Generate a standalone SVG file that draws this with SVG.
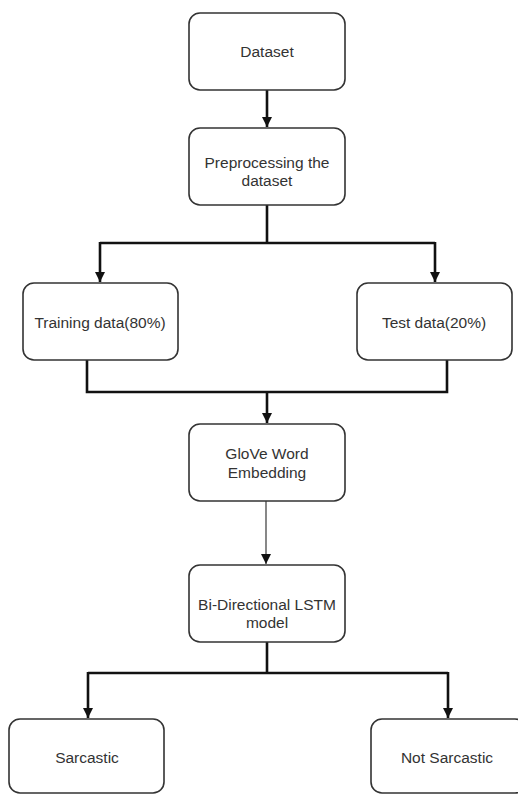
<svg xmlns="http://www.w3.org/2000/svg" width="518" height="795" viewBox="0 0 518 795">
<style>
.box{fill:#fff;stroke:#333;stroke-width:1.6}
.t{font-family:"Liberation Sans",Arial,sans-serif;font-size:15.5px;fill:#333;text-anchor:middle}
.c{fill:none;stroke:#111;stroke-width:2.6}
.thin{fill:none;stroke:#555;stroke-width:1.4}
</style>
<defs>
<marker id="ah" viewBox="0 0 10 10" refX="10" refY="5" markerWidth="4" markerHeight="4" markerUnits="strokeWidth" orient="auto">
<path d="M0,0 L10,5 L0,10 Z" fill="#111"/>
</marker>
<marker id="ah2" viewBox="0 0 10 10" refX="10" refY="5" markerWidth="7.5" markerHeight="7.5" markerUnits="strokeWidth" orient="auto">
<path d="M0,0 L10,5 L0,10 Z" fill="#111"/>
</marker>
</defs>
<rect width="518" height="795" fill="#fff"/>
<g id="connectors">
<path class="c" d="M267,90 V127" marker-end="url(#ah)"/>
<path class="c" d="M267,205 V243 M100,243 H435"/>
<path class="c" d="M100,242 V282" marker-end="url(#ah)"/>
<path class="c" d="M435,242 V282" marker-end="url(#ah)"/>
<path class="c" d="M87,360 V392 H447 V360"/>
<path class="c" d="M267,392 V423" marker-end="url(#ah)"/>
<path class="thin" d="M266,501 V564" marker-end="url(#ah2)"/>
<path class="c" d="M267,642 V673 M88,673 H448"/>
<path class="c" d="M88,672 V718" marker-end="url(#ah)"/>
<path class="c" d="M448,672 V718" marker-end="url(#ah)"/>
</g>
<g id="dataset">
<rect class="box" x="189" y="13" width="156" height="77" rx="11"/>
<text class="t" x="267" y="57">Dataset</text>
</g>
<g id="preprocessing">
<rect class="box" x="189" y="128" width="156" height="77" rx="11"/>
<text class="t" x="267" y="168">Preprocessing the</text>
<text class="t" x="267" y="186">dataset</text>
</g>
<g id="training">
<rect class="box" x="23" y="283" width="155" height="77" rx="11"/>
<text class="t" x="100" y="328">Training data(80%)</text>
</g>
<g id="test">
<rect class="box" x="357" y="283" width="155" height="77" rx="11"/>
<text class="t" x="434" y="328">Test data(20%)</text>
</g>
<g id="glove">
<rect class="box" x="189" y="424" width="156" height="77" rx="11"/>
<text class="t" x="267" y="459">GloVe Word</text>
<text class="t" x="267" y="478">Embedding</text>
</g>
<g id="bilstm">
<rect class="box" x="189" y="565" width="156" height="77" rx="11"/>
<text class="t" x="267" y="610">Bi-Directional LSTM</text>
<text class="t" x="267" y="628">model</text>
</g>
<g id="sarcastic">
<rect class="box" x="9" y="719" width="155" height="74" rx="11"/>
<text class="t" x="87" y="763">Sarcastic</text>
</g>
<g id="notsarcastic">
<rect class="box" x="371" y="719" width="155" height="74" rx="11"/>
<text class="t" x="447" y="763">Not Sarcastic</text>
</g>
</svg>
